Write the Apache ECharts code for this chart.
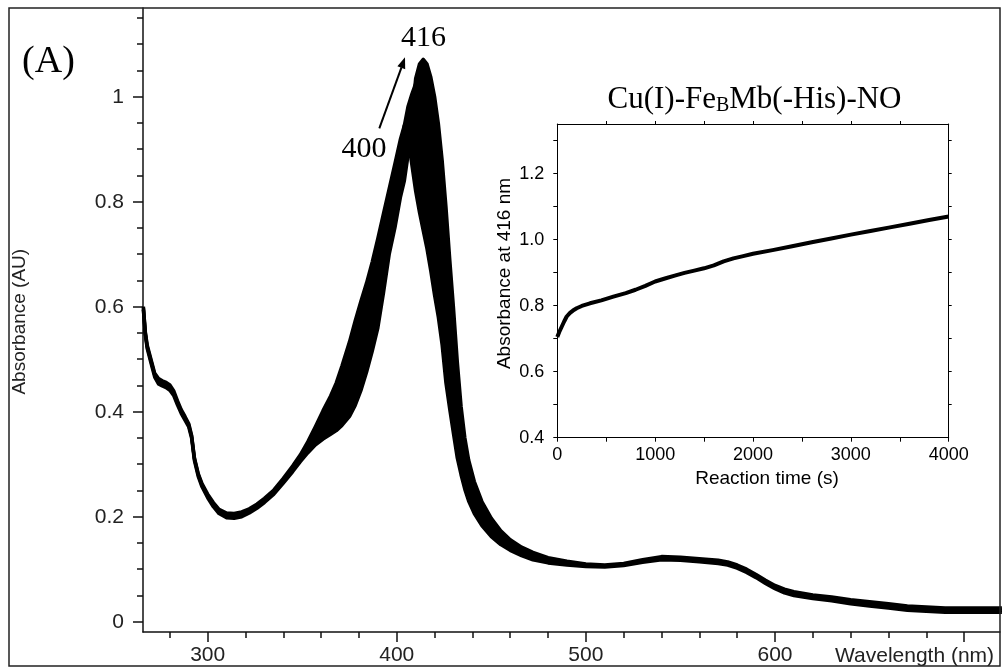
<!DOCTYPE html>
<html><head><meta charset="utf-8">
<script src="https://cdn.jsdelivr.net/npm/echarts@6/dist/echarts.min.js"></script>
<style>html,body{margin:0;padding:0;background:#fff}#c{width:1002px;height:670px}</style>
</head><body><div id="c"></div>
<script>
// ---- main panel: UV-vis spectra (first, a middle and the last trace of the series) ----
const wavelength = [266,267,268,270,272,274,276,278,280,282,284,286,288,290,291.5,293,295,297,300,303,306,310,314,318,322,326,330,335,340,345,349,353,357,361,365,368,371,375,378,381,384,387,390,393,396,399,402,404,406,408,410,412,414,416,418,420,422,424,426,428,430,432,434,436,438,441,445,450,455,460,466,472,480,490,500,510,520,530,540,550,560,570,575,580,585,590,595,600,605,610,620,630,640,650,660,670,680,690,700,710,720];
const absInitial = [0.600,0.553,0.527,0.500,0.473,0.463,0.459,0.456,0.451,0.440,0.421,0.404,0.391,0.377,0.355,0.312,0.282,0.263,0.243,0.227,0.214,0.207,0.206,0.209,0.215,0.224,0.235,0.251,0.273,0.297,0.318,0.343,0.372,0.402,0.430,0.455,0.487,0.533,0.573,0.610,0.645,0.685,0.730,0.778,0.825,0.872,0.920,0.945,0.920,0.870,0.820,0.780,0.745,0.710,0.668,0.622,0.580,0.527,0.455,0.405,0.358,0.312,0.280,0.252,0.230,0.206,0.183,0.162,0.147,0.136,0.126,0.118,0.112,0.108,0.105,0.104,0.107,0.113,0.118,0.117,0.114,0.111,0.108,0.102,0.094,0.084,0.073,0.063,0.055,0.050,0.044,0.040,0.034,0.030,0.026,0.022,0.020,0.018,0.018,0.018,0.018];
const absMiddle = [0.597,0.550,0.524,0.497,0.470,0.458,0.454,0.451,0.446,0.436,0.417,0.401,0.388,0.374,0.353,0.310,0.280,0.260,0.240,0.223,0.210,0.203,0.202,0.205,0.211,0.220,0.231,0.247,0.269,0.292,0.311,0.332,0.352,0.372,0.392,0.408,0.427,0.458,0.489,0.523,0.560,0.600,0.645,0.700,0.765,0.830,0.900,0.945,0.982,1.005,1.025,1.015,0.970,0.910,0.850,0.800,0.750,0.690,0.615,0.540,0.475,0.400,0.345,0.300,0.270,0.237,0.206,0.180,0.160,0.146,0.134,0.125,0.117,0.112,0.108,0.106,0.109,0.116,0.121,0.120,0.117,0.114,0.111,0.105,0.097,0.087,0.076,0.066,0.059,0.054,0.048,0.044,0.038,0.034,0.030,0.026,0.024,0.022,0.022,0.022,0.022];
const absFinal = [0.594,0.547,0.521,0.493,0.466,0.453,0.449,0.446,0.441,0.431,0.413,0.397,0.384,0.371,0.350,0.307,0.277,0.257,0.236,0.219,0.206,0.198,0.197,0.200,0.207,0.216,0.227,0.243,0.264,0.286,0.305,0.322,0.337,0.348,0.357,0.364,0.374,0.391,0.412,0.440,0.475,0.515,0.560,0.627,0.700,0.750,0.810,0.840,0.890,0.960,1.035,1.062,1.071,1.062,1.037,1.000,0.948,0.878,0.790,0.690,0.597,0.495,0.410,0.350,0.308,0.267,0.229,0.197,0.173,0.156,0.142,0.132,0.122,0.115,0.110,0.108,0.111,0.118,0.124,0.123,0.120,0.117,0.114,0.108,0.100,0.090,0.079,0.069,0.062,0.057,0.051,0.047,0.042,0.038,0.034,0.030,0.028,0.026,0.026,0.026,0.026];
const mainXTicks = [300,400,500,600,700];
const mainXLabels = [300,400,500,600];
const mainXMinor = [280,320,340,360,380,420,440,460,480,520,540,560,580,620,640,660,680];
const mainYTicks = [0,0.2,0.4,0.6,0.8,1];
const mainYMinor = [0.05,0.1,0.15,0.25,0.3,0.35,0.45,0.5,0.55,0.65,0.7,0.75,0.85,0.9,0.95,1.05,1.1,1.15];

// ---- inset: kinetics at 416 nm ----
const timeS = [0,20,45,70,96,130,160,198,250,334,450,573,700,800,900,1000,1100,1200,1300,1400,1500,1600,1700,1800,1900,2000,2200,2400,2600,2800,3000,3200,3400,3600,3800,4000];
const abs416 = [0.705,0.720,0.736,0.752,0.767,0.778,0.785,0.792,0.799,0.807,0.816,0.827,0.838,0.848,0.860,0.873,0.882,0.891,0.899,0.906,0.913,0.922,0.934,0.943,0.950,0.957,0.968,0.980,0.992,1.003,1.015,1.026,1.037,1.048,1.059,1.070];
const insetXTicks = [0,500,1000,1500,2000,2500,3000,3500,4000];
const insetXLabels = [0,1000,2000,3000,4000];
const insetXTopTicks = [500,1000,1500,2000,2500,3000,3500];
const insetYTicks = [0.4,0.5,0.6,0.7,0.8,0.9,1.0,1.1,1.2,1.3];
const insetYLabels = [0.4,0.6,0.8,1.0,1.2];
const insetYRightTicks = [0.5,0.6,0.7,0.8,0.9,1.0,1.1,1.2,1.3];

const SANS = '"Liberation Sans", Arial, sans-serif';
const SERIF = '"Liberation Serif", "Times New Roman", serif';
const K = '#111';
const traces = [absInitial, absMiddle, absFinal];

const chart = echarts.init(document.getElementById('c'), null, {renderer:'canvas'});
const option = {
  animation:false,
  backgroundColor:'#fff',
  grid:[
    {left:143, top:8, right:2, bottom:38},
    {left:557.3, top:124, width:391.4, height:313.7}
  ],
  xAxis:[
    {gridIndex:0, type:'value', position:'bottom', min:265.8, max:719,
     axisLine:{show:true, onZero:false, lineStyle:{color:K, width:1.5}},
     axisTick:{show:true, customValues:mainXTicks, length:10, lineStyle:{color:K, width:1.5}},
     axisLabel:{show:true, customValues:mainXLabels, margin:13, fontFamily:SANS, fontSize:21, color:'#222', formatter:v=>String(v)},
     splitLine:{show:false}},
    {gridIndex:0, type:'value', position:'bottom', min:265.8, max:719,
     axisLine:{show:false, onZero:false},
     axisTick:{show:true, customValues:mainXMinor, length:6, lineStyle:{color:K, width:1.5}},
     axisLabel:{show:false}, splitLine:{show:false}},
    {gridIndex:1, type:'value', position:'bottom', min:0, max:4000,
     axisLine:{show:true, onZero:false, lineStyle:{color:'#000', width:1}},
     axisTick:{show:true, customValues:insetXTicks, length:4, lineStyle:{color:'#000', width:1}},
     axisLabel:{show:true, customValues:insetXLabels, margin:8, fontFamily:SANS, fontSize:18, color:'#000', formatter:v=>String(v)},
     splitLine:{show:false}},
    {gridIndex:1, type:'value', position:'top', min:0, max:4000,
     axisLine:{show:true, onZero:false, lineStyle:{color:'#000', width:1}},
     axisTick:{show:true, customValues:insetXTopTicks, length:3, lineStyle:{color:'#000', width:1}},
     axisLabel:{show:false}, splitLine:{show:false}}
  ],
  yAxis:[
    {gridIndex:0, type:'value', position:'left', min:-0.0196, max:1.169,
     axisLine:{show:true, onZero:false, lineStyle:{color:K, width:1.5}},
     axisTick:{show:true, customValues:mainYTicks, length:10, lineStyle:{color:K, width:1.5}},
     axisLabel:{show:true, customValues:mainYTicks, margin:19, fontFamily:SANS, fontSize:21, color:'#222',
       formatter:v=> (Math.abs(v)<1e-9 ? '0' : (Math.abs(v-1)<1e-9 ? '1' : v.toFixed(1)))},
     splitLine:{show:false}},
    {gridIndex:0, type:'value', position:'left', min:-0.0196, max:1.169,
     axisLine:{show:false, onZero:false},
     axisTick:{show:true, customValues:mainYMinor, length:6, lineStyle:{color:K, width:1.5}},
     axisLabel:{show:false}, splitLine:{show:false}},
    {gridIndex:1, type:'value', position:'left', min:0.4, max:1.35,
     axisLine:{show:true, onZero:false, lineStyle:{color:'#000', width:1}},
     axisTick:{show:true, customValues:insetYTicks, length:4, lineStyle:{color:'#000', width:1}},
     axisLabel:{show:true, customValues:insetYLabels, margin:13, fontFamily:SANS, fontSize:18, color:'#000',
       formatter:v=>v.toFixed(1)},
     splitLine:{show:false}},
    {gridIndex:1, type:'value', position:'right', min:0.4, max:1.35,
     axisLine:{show:true, onZero:false, lineStyle:{color:'#000', width:1}},
     axisTick:{show:true, customValues:insetYRightTicks, length:3, lineStyle:{color:'#000', width:1}},
     axisLabel:{show:false}, splitLine:{show:false}}
  ],
  series:[
    {type:'custom', name:'band', xAxisIndex:0, yAxisIndex:0, clip:true, silent:true, z:2,
     data:[[wavelength[0], absInitial[0]]],
     renderItem:(params, api)=>{
       const children = [];
       for (let k=0;k<traces.length-1;k++){
         const a = traces[k], b = traces[k+1], pts = [];
         for (let i=0;i<wavelength.length;i++) pts.push(api.coord([wavelength[i], a[i]]));
         for (let i=wavelength.length-1;i>=0;i--) pts.push(api.coord([wavelength[i], b[i]]));
         children.push({type:'polygon', shape:{points:pts}, style:{fill:'#000', stroke:null}});
       }
       return {type:'group', children};
     }},
    {type:'line', name:'initial', xAxisIndex:0, yAxisIndex:0, data:wavelength.map((w,i)=>[w,absInitial[i]]),
     showSymbol:false, symbol:'none', lineStyle:{width:3.5, color:'#000', join:'round'}, z:3},
    {type:'line', name:'middle', xAxisIndex:0, yAxisIndex:0, data:wavelength.map((w,i)=>[w,absMiddle[i]]),
     showSymbol:false, symbol:'none', lineStyle:{width:3.5, color:'#000', join:'round'}, z:3},
    {type:'line', name:'final', xAxisIndex:0, yAxisIndex:0, data:wavelength.map((w,i)=>[w,absFinal[i]]),
     showSymbol:false, symbol:'none', lineStyle:{width:3.5, color:'#000', join:'round'}, z:3},
    {type:'line', name:'kinetics', xAxisIndex:2, yAxisIndex:2, data:timeS.map((t,i)=>[t,abs416[i]]),
     showSymbol:false, symbol:'none', lineStyle:{width:4, color:'#000', join:'round'}, z:3}
  ],
  graphic:[
    {type:'rect', shape:{x:9, y:8, width:991, height:658}, style:{fill:'none', stroke:'#222', lineWidth:1.5}, z:100},
    {type:'text', x:48.5, y:62, style:{text:'(A)', fontFamily:SERIF, fontSize:38, fill:'#000', align:'center', verticalAlign:'middle'}, z:100},
    {type:'text', x:423.5, y:38, style:{text:'416', fontFamily:SERIF, fontSize:30, fill:'#000', align:'center', verticalAlign:'middle'}, z:100},
    {type:'text', x:364, y:149.5, style:{text:'400', fontFamily:SERIF, fontSize:30, fill:'#000', align:'center', verticalAlign:'middle'}, z:100},
    {type:'line', shape:{x1:379.3, y1:128.3, x2:401.5, y2:67.3}, style:{stroke:'#000', lineWidth:2}, z:100},
    {type:'polygon', shape:{points:[[405,57.3],[405.2,69.2],[397.4,66.3]]}, style:{fill:'#000'}, z:100},
    {type:'text', x:754.5, y:99.5, style:{text:'{a|Cu(I)-Fe}{b|B}{a|Mb(-His)-NO}',
      rich:{a:{fontFamily:SERIF, fontSize:31, fill:'#000'}, b:{fontFamily:SERIF, fontSize:20, fill:'#000', padding:[12,0,0,0]}},
      align:'center', verticalAlign:'middle', fill:'#000'}, z:100},
    {type:'text', x:19.7, y:321.7, rotation:Math.PI/2, style:{text:'Absorbance (AU)', fontFamily:SANS, fontSize:19, fill:'#222', align:'center', verticalAlign:'middle'}, z:100},
    {type:'text', x:835, y:656.5, style:{text:'Wavelength (nm)', fontFamily:SANS, fontSize:21, fill:'#222', align:'left', verticalAlign:'middle'}, z:100},
    {type:'text', x:505, y:273.5, rotation:Math.PI/2, style:{text:'Absorbance at 416 nm', fontFamily:SANS, fontSize:19, fill:'#000', align:'center', verticalAlign:'middle'}, z:100},
    {type:'text', x:767, y:479, style:{text:'Reaction time (s)', fontFamily:SANS, fontSize:19, fill:'#000', align:'center', verticalAlign:'middle'}, z:100}
  ]
};
chart.setOption(option);
</script></body></html>
